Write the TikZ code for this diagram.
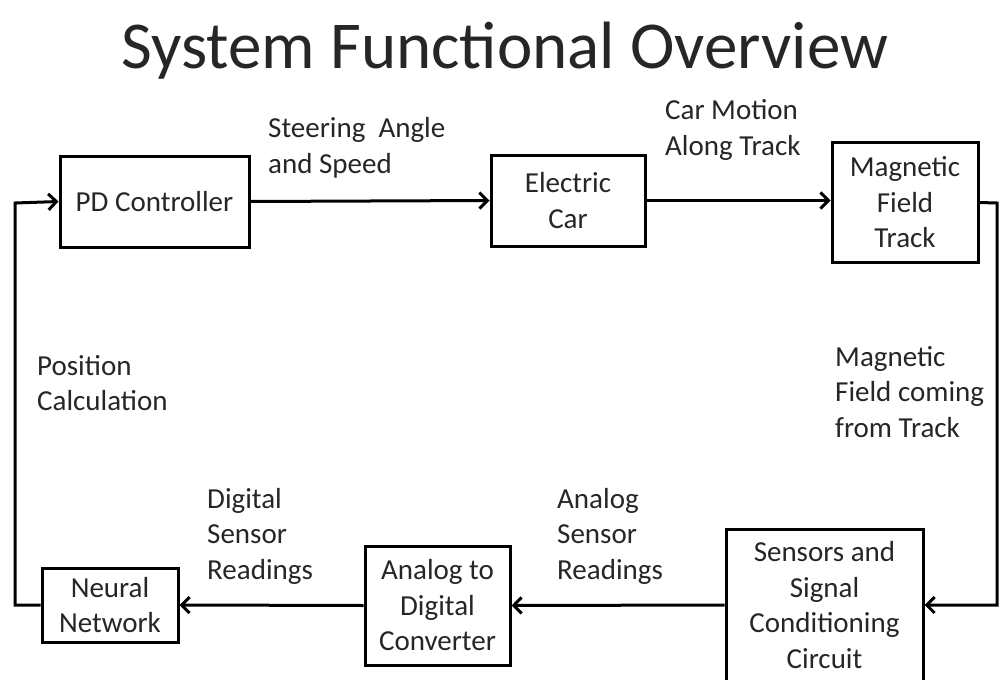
\documentclass[tikz,border=0pt]{standalone}
\usepackage{fontspec}
\setmainfont{Carlito}
\usetikzlibrary{arrows.meta}
\begin{document}
\begin{tikzpicture}[x=1pt,y=-1pt,
  blk/.style={draw=black,line width=3pt,fill=white,inner sep=0pt,align=center,
    font=\fontsize{29}{35.5}\selectfont,text=black!85},
  lbl/.style={inner sep=0pt,align=left,anchor=west,font=\fontsize{29}{35.5}\selectfont,text=black!85},
  conn/.style={line width=3pt,draw=black},
  arr/.style={conn,-{Straight Barb[length=8pt,width=16pt]}}]
\useasboundingbox (0,0) rectangle (999,680);
\node[text=black!85,font=\fontsize{67}{70}\selectfont] (title) at (505,51) {System Functional Overview};
\node[blk,minimum width=189,minimum height=91] (pd) at (154.5,201.5) {PD Controller};
\node[blk,minimum width=154,minimum height=91] (ec) at (568,200.5) {Electric\\Car};
\node[blk,minimum width=146,minimum height=120] (mft) at (905,202.5) {Magnetic\\Field\\Track};
\node[blk,minimum width=197,minimum height=152] (ssc) at (824.5,605) {Sensors and\\Signal\\Conditioning\\Circuit};
\node[blk,minimum width=145,minimum height=119] (adc) at (437.5,605.5) {Analog to\\Digital\\Converter};
\node[blk,minimum width=136,minimum height=74] (nn) at (110,605) {Neural\\Network};
\coordinate (tr) at (997,203);
\coordinate (br) at (997,605);
\coordinate (tl) at (15,203);
\coordinate (bl) at (15,605);
\draw[arr] (pd.east) -- (ec.west);
\draw[arr] (ec.east) -- (mft.west|-ec.east);
\draw[arr] (mft.east) -- (tr) -- (br) -- (ssc.east);
\draw[arr] (ssc.west) -- (adc.east);
\draw[arr] (adc.west) -- (nn.east);
\draw[arr] (nn.west) -- (bl) -- (tl) -- (pd.west);
\node[lbl] (l1) at (268,148) {Steering~ Angle\\and Speed};
\node[lbl] (l2) at (665,130) {Car Motion\\Along Track};
\node[lbl] (l3) at (37,383) {Position\\Calculation};
\node[lbl] (l4) at (835,392) {Magnetic\\Field coming\\from Track};
\node[lbl] (l5) at (207,536) {Digital\\Sensor\\Readings};
\node[lbl] (l6) at (557,536) {Analog\\Sensor\\Readings};
\end{tikzpicture}
\end{document}
